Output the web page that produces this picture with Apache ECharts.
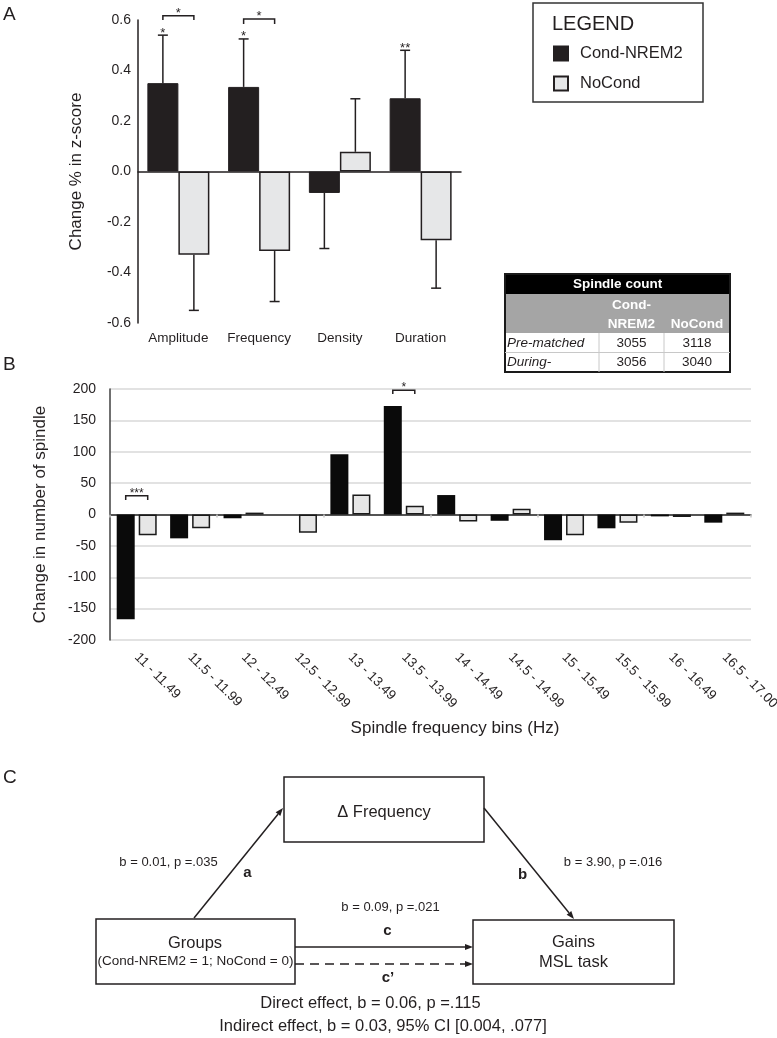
<!DOCTYPE html>
<html><head><meta charset="utf-8">
<script src="https://cdn.jsdelivr.net/npm/echarts@6/dist/echarts.min.js"></script>
<style>html,body{margin:0;padding:0;background:#fff}#c{width:777px;height:1038px}</style>
</head><body><div id="c"></div>
<script>
// ---------- Panel A data ----------
const metricsA = ['Amplitude', 'Frequency', 'Density', 'Duration'];
const condA = [0.35, 0.335, -0.085, 0.29];
const noCondA = [-0.33, -0.315, 0.078, -0.272];
const semCondA = [0.19, 0.19, 0.22, 0.19];
const semNoCondA = [0.22, 0.20, 0.21, 0.19];
const starsCondA = ['*', '*', '', '**'];
// [category, bracket top, leg bottom, label]
const bracketsA = [[0, 0.617, 0.6, '*'], [1, 0.604, 0.584, '*']];
const yMinA = -0.6, yMaxA = 0.6, yStepA = 0.2;

// ---------- Panel B data ----------
const binsB = ['11 - 11.49', '11.5 - 11.99', '12 - 12.49', '12.5 - 12.99', '13 - 13.49', '13.5 - 13.99',
  '14 - 14.49', '14.5 - 14.99', '15 - 15.49', '15.5 - 15.99', '16 - 16.49', '16.5 - 17.00'];
const condB = [-167, -38, -6, 0, 96, 173, 31, -10, -41, -22, -3, -13];
const noCondB = [-33, -22, 3, -29, 32, 14, -11, 9, -33, -13, -4, 3];
const bracketsB = [[0, 30, 23, '***'], [5, 198, 192, '*']];
const yMinB = -200, yMaxB = 200, yStepB = 50;

// ---------- Table data ----------
const tableTitle = 'Spindle count';
const tableRows = ['Pre-matched', 'During-'];
const tableCond = [3055, 3056];
const tableNoCond = [3118, 3040];

// ---------- Panel C texts ----------
const pathA = 'b = 0.01, p =.035';
const pathB = 'b = 3.90, p =.016';
const pathC = 'b = 0.09, p =.021';
const directTxt = 'Direct effect, b = 0.06, p =.115';
const indirectTxt = 'Indirect effect, b = 0.03, 95% CI [0.004, .077]';

const INK = '#231f20';
const FONT = '"Liberation Sans", Arial, Helvetica, sans-serif';
const BAR_A = 31;
const BAR_B = 18, GAP_B = 4;

function txt(x, y, text, size, opts) {
  opts = opts || {};
  return {
    type: 'text', x: x, y: y, z: 10,
    style: {
      text: text, fill: opts.fill || INK,
      font: (opts.italic ? 'italic ' : '') + (opts.bold ? 'bold ' : '') + size + 'px ' + FONT,
      align: opts.align || 'center', textAlign: opts.align || 'center',
      verticalAlign: 'middle', textVerticalAlign: 'middle'
    }
  };
}
function rect(x, y, w, h, fill, stroke, lw) {
  return { type: 'rect', z: 5, shape: { x: x, y: y, width: w, height: h },
    style: { fill: fill || 'none', stroke: stroke || null, lineWidth: lw || 0 } };
}
function line(x1, y1, x2, y2, stroke, lw, dash) {
  return { type: 'line', z: 6, shape: { x1: x1, y1: y1, x2: x2, y2: y2 },
    style: { stroke: stroke, lineWidth: lw, lineDash: dash || null } };
}
function arrow(x1, y1, x2, y2, dashed) {
  const ang = Math.atan2(y2 - y1, x2 - x1);
  const L = 8, W = 3;
  const bx = x2 - L * Math.cos(ang), by = y2 - L * Math.sin(ang);
  const px = -Math.sin(ang) * W, py = Math.cos(ang) * W;
  return [
    line(x1, y1, bx, by, INK, 1.5, dashed ? [9, 6] : null),
    { type: 'polygon', z: 6, shape: { points: [[x2, y2], [bx + px, by + py], [bx - px, by - py]] }, style: { fill: INK } }
  ];
}

function starText(x, yGlyph, s, size) {
  return { type: 'text', x: x, y: yGlyph + 0.3 * size,
    style: { text: s, fill: INK, font: size + 'px ' + FONT, align: 'center', verticalAlign: 'middle' } };
}

function errorRender(vals, sems, side, stars) {
  return function (params, api) {
    const i = params.dataIndex;
    const v = vals[i];
    const end = v + Math.sign(v) * sems[i];
    const p0 = api.coord([i, v]);
    const p1 = api.coord([i, end]);
    const x = p0[0] + side * BAR_A / 2;
    const children = [
      { type: 'line', shape: { x1: x, y1: p0[1], x2: x, y2: p1[1] }, style: { stroke: INK, lineWidth: 1.5 } },
      { type: 'line', shape: { x1: x - 5, y1: p1[1], x2: x + 5, y2: p1[1] }, style: { stroke: INK, lineWidth: 1.5 } }
    ];
    if (stars && stars[i]) children.push(starText(x, p1[1] - 6, stars[i], 13));
    return { type: 'group', children: children };
  };
}
function bracketRender(list, half, size) {
  return function (params, api) {
    const d = list[params.dataIndex];
    const top = api.coord([d[0], d[1]]);
    const leg = api.coord([d[0], d[2]]);
    const xl = top[0] - half, xr = top[0] + half;
    return { type: 'group', children: [
      { type: 'polyline', shape: { points: [[xl, leg[1]], [xl, top[1]], [xr, top[1]], [xr, leg[1]]] },
        style: { stroke: INK, lineWidth: 1.5, fill: null } },
      starText(top[0], top[1] - 6, d[3], size)
    ] };
  };
}

const chart = echarts.init(document.getElementById('c'), null, { renderer: 'canvas' });

// graphic: legend box, table, panel C, letters
const g = [];
g.push(txt(3, 15, 'A', 19, { align: 'left' }));
g.push(txt(3, 365, 'B', 19, { align: 'left' }));
g.push(txt(3, 778, 'C', 19, { align: 'left' }));
// legend frame
g.push(rect(533, 3, 170, 99, 'none', '#333', 1.5));
g.push(txt(552, 24, 'LEGEND', 20, { align: 'left' }));
// table
const tx = 505, ty = 274, tw = 225;
g.push(rect(tx, ty, tw, 20, '#000'));
g.push(rect(tx, ty + 20, tw, 39, '#a5a5a5'));
g.push(rect(tx, ty + 59, tw, 39, '#fff'));
g.push(line(tx, ty + 78.5, tx + tw, ty + 78.5, '#c8c8c8', 1));
g.push(line(599, ty + 59, 599, ty + 98, '#c8c8c8', 1));
g.push(line(664, ty + 59, 664, ty + 98, '#c8c8c8', 1));
g.push(rect(tx, ty, tw, 98, 'none', '#1a1a1a', 2));
g.push(txt(617.5, ty + 10.5, tableTitle, 13.5, { bold: true, fill: '#fff' }));
g.push(txt(631.5, 305, 'Cond-', 13.5, { bold: true, fill: '#fff' }));
g.push(txt(631.5, 324, 'NREM2', 13.5, { bold: true, fill: '#fff' }));
g.push(txt(697, 324, 'NoCond', 13.5, { bold: true, fill: '#fff' }));
tableRows.forEach(function (r, i) {
  const y = 343 + i * 19.5;
  g.push(txt(507, y, r, 13.5, { italic: true, align: 'left' }));
  g.push(txt(631.5, y, String(tableCond[i]), 13.5));
  g.push(txt(697, y, String(tableNoCond[i]), 13.5));
});
// panel B x title
g.push(txt(455, 728, 'Spindle frequency bins (Hz)', 17));
// panel C
g.push(rect(284, 777, 200, 65, '#fff', INK, 1.5));
g.push(rect(96, 919, 199, 65, '#fff', INK, 1.5));
g.push(rect(473, 920, 201, 64, '#fff', INK, 1.5));
g.push(txt(384, 812, '\u0394 Frequency', 16.5));
g.push(txt(195, 943, 'Groups', 16.5));
g.push(txt(195.5, 961, '(Cond-NREM2 = 1; NoCond = 0)', 13.5));
g.push(txt(573.5, 942, 'Gains', 16.5));
g.push(txt(573.5, 962, 'MSL task', 16.5));
Array.prototype.push.apply(g, arrow(194, 918, 283, 808, false));
Array.prototype.push.apply(g, arrow(484, 808, 574, 919, false));
Array.prototype.push.apply(g, arrow(295, 947, 473, 947, false));
Array.prototype.push.apply(g, arrow(295, 964, 473, 964, true));
g.push(txt(168.5, 862, pathA, 13));
g.push(txt(247.5, 873, 'a', 15, { bold: true }));
g.push(txt(522.5, 875, 'b', 15, { bold: true }));
g.push(txt(613, 862, pathB, 13));
g.push(txt(390.5, 907, pathC, 13));
g.push(txt(387.5, 931, 'c', 15, { bold: true }));
g.push(txt(388, 978, 'c\u2019', 15, { bold: true }));
g.push(txt(370.5, 1003.5, directTxt, 16.5));
g.push(txt(383, 1026.5, indirectTxt, 16.5));

const option = {
  backgroundColor: '#fff',
  animation: false,
  textStyle: { fontFamily: FONT, color: INK },
  legend: {
    data: ['Cond-NREM2', 'NoCond'],
    orient: 'vertical', left: 553, top: 45, padding: 0,
    itemWidth: 14, itemHeight: 14, itemGap: 13, icon: 'rect',
    textStyle: { fontSize: 16.5, color: INK, fontFamily: FONT, padding: [0, 0, 0, 7] },
    selectedMode: false
  },
  grid: [
    { left: 138, top: 20, width: 323, height: 303, containLabel: false, outerBoundsMode: 'none' },
    { left: 110, top: 389, width: 641, height: 251, containLabel: false, outerBoundsMode: 'none' }
  ],
  xAxis: [
    { type: 'category', gridIndex: 0, data: metricsA, position: 'bottom',
      axisLine: { show: false, onZero: false }, axisTick: { show: false },
      axisLabel: { fontSize: 13.5, color: INK, margin: 8, interval: 0, fontFamily: FONT } },
    { type: 'category', gridIndex: 0, data: metricsA, position: 'bottom',
      axisLine: { show: true, onZero: true, lineStyle: { color: INK, width: 1.5 } },
      axisTick: { show: false }, axisLabel: { show: false } },
    { type: 'category', gridIndex: 1, data: binsB, position: 'bottom',
      axisLine: { show: false, onZero: false }, axisTick: { show: false },
      axisLabel: { fontSize: 13.5, color: INK, margin: 15, rotate: -45, interval: 0, fontFamily: FONT } },
    { type: 'category', gridIndex: 1, data: binsB, position: 'bottom',
      axisLine: { show: true, onZero: true, lineStyle: { color: '#262626', width: 1.5 } },
      axisTick: { show: true, length: 3, lineStyle: { color: '#c8c8c8', width: 1.5 } },
      axisLabel: { show: false } }
  ],
  yAxis: [
    { type: 'value', gridIndex: 0, min: yMinA, max: yMaxA, interval: yStepA,
      axisLine: { show: true, lineStyle: { color: INK, width: 1.5 } }, axisTick: { show: false },
      splitLine: { show: false },
      axisLabel: { fontSize: 14, color: INK, margin: 7, fontFamily: FONT,
        formatter: function (v) { return v.toFixed(1); } },
      name: 'Change % in z-score', nameLocation: 'middle', nameGap: 53, nameRotate: 90,
      nameTextStyle: { fontSize: 17, color: INK, fontFamily: FONT } },
    { type: 'value', gridIndex: 1, min: yMinB, max: yMaxB, interval: yStepB,
      axisLine: { show: true, lineStyle: { color: '#404040', width: 1.5 } }, axisTick: { show: false },
      splitLine: { show: true, lineStyle: { color: '#d9d9d9', width: 1.5 } },
      axisLabel: { fontSize: 14, color: INK, margin: 14, fontFamily: FONT },
      name: 'Change in number of spindle', nameLocation: 'middle', nameGap: 61, nameRotate: 90,
      nameTextStyle: { fontSize: 17, color: INK, fontFamily: FONT } }
  ],
  series: [
    { name: 'Cond-NREM2', type: 'bar', xAxisIndex: 0, yAxisIndex: 0, data: condA,
      barWidth: BAR_A, barGap: '0%', itemStyle: { color: INK, borderColor: INK, borderWidth: 1 } },
    { name: 'NoCond', type: 'bar', xAxisIndex: 0, yAxisIndex: 0, data: noCondA,
      barWidth: BAR_A, barGap: '0%', itemStyle: { color: '#e6e7e8', borderColor: INK, borderWidth: 1.5 } },
    { name: 'errCond', type: 'custom', xAxisIndex: 0, yAxisIndex: 0, clip: false, z: 5,
      data: condA.map(function (v, i) { return [i, v]; }),
      renderItem: errorRender(condA, semCondA, -1, starsCondA) },
    { name: 'errNoCond', type: 'custom', xAxisIndex: 0, yAxisIndex: 0, clip: false, z: 5,
      data: noCondA.map(function (v, i) { return [i, v]; }),
      renderItem: errorRender(noCondA, semNoCondA, 1, null) },
    { name: 'sigA', type: 'custom', xAxisIndex: 0, yAxisIndex: 0, clip: false, z: 5,
      data: bracketsA.map(function (b) { return [b[0], b[1]]; }),
      renderItem: bracketRender(bracketsA, BAR_A / 2, 13) },
    { name: 'Cond-NREM2', type: 'bar', xAxisIndex: 2, yAxisIndex: 1, data: condB,
      barWidth: BAR_B, barGap: (GAP_B / BAR_B * 100) + '%', itemStyle: { color: '#0a0a0a' } },
    { name: 'NoCond', type: 'bar', xAxisIndex: 2, yAxisIndex: 1, data: noCondB,
      barWidth: BAR_B, barGap: (GAP_B / BAR_B * 100) + '%',
      itemStyle: { color: '#e6e6e6', borderColor: '#1a1a1a', borderWidth: 1.5 } },
    { name: 'sigB', type: 'custom', xAxisIndex: 2, yAxisIndex: 1, clip: false, z: 5,
      data: bracketsB.map(function (b) { return [b[0], b[1]]; }),
      renderItem: bracketRender(bracketsB, (BAR_B + GAP_B) / 2, 12) }
  ],
  graphic: { elements: g }
};
chart.setOption(option);
</script></body></html>
